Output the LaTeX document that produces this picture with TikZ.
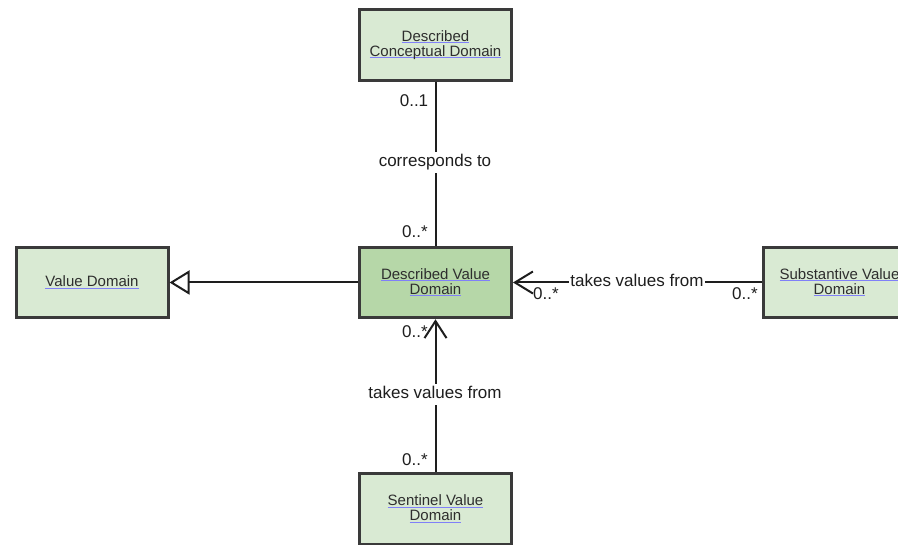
\documentclass[tikz,border=0pt]{standalone}
\usepackage{fontspec}
\setmainfont{Liberation Sans}
\usetikzlibrary{arrows.meta}
\definecolor{boxfill}{HTML}{D9EAD3}
\definecolor{boxfilldark}{HTML}{B6D7A8}
\definecolor{boxdraw}{HTML}{3A3A3A}
\definecolor{ulc}{HTML}{8080F8}
\definecolor{txt}{HTML}{2E2E2E}
\definecolor{lbltxt}{HTML}{1E1E1E}
\newcommand\myul[1]{\setbox0\hbox{#1}\rlap{\textcolor{ulc}{\rule[-2pt]{\wd0}{1pt}}}\box0}
\begin{document}
\begin{tikzpicture}[x=1pt,y=-1pt,
  cls/.style={draw=boxdraw,line width=3pt,fill=boxfill,minimum width=152pt,minimum height=70.5pt,inner sep=0pt,align=center,font=\fontsize{15}{15}\selectfont,text=txt},
  conn/.style={line width=2pt,draw=lbltxt},
  lbl/.style={font=\fontsize{17}{17}\selectfont,text=lbltxt,inner sep=0pt},
  mlbl/.style={lbl,fill=white,inner xsep=1pt,inner ysep=2pt,text height=13pt,text depth=4pt}]
\clip (0,0) rectangle (898,545);
\useasboundingbox (0,0) rectangle (898,545);
% classes
\node[cls] (dcd) at (435.5,45) {\myul{Described}\\\myul{Conceptual Domain}};
\node[cls,fill=boxfilldark] (dvd) at (435.5,282.5) {\myul{Described Value}\\\myul{Domain}};
\node[cls] (vd) at (92,282.5) {\myul{Value Domain}};
\node[cls] (svd) at (839.5,282.5) {\myul{Substantive Value}\\\myul{Domain}};
\node[cls] (snd) at (435.5,509) {\myul{Sentinel Value}\\\myul{Domain}};
% connectors
\draw[conn] (dcd.south) -- (dvd.north);
\draw[conn,-{Triangle[open,length=20pt,width=24pt]}] (dvd.west) -- (vd.east);
\draw[conn,-{Straight Barb[length=18pt,width=22pt]}] (svd.west) -- (dvd.east);
\draw[conn,-{Straight Barb[length=17pt,width=22pt]}] (snd.north) -- (dvd.south);
% association names
\node[mlbl,anchor=base] (n1) at (435,167) {corresponds to};
\node[mlbl,anchor=base] (n2) at (637,287) {takes values from};
\node[mlbl,anchor=base] (n3) at (435,399) {takes values from};
% multiplicities
\node[lbl,anchor=base] (m1) at (414,107) {0..1};
\node[lbl,anchor=base] (m2) at (415,238) {0..*};
\node[lbl,anchor=base] (m3) at (415,338) {0..*};
\node[lbl,anchor=base] (m4) at (546,300) {0..*};
\node[lbl,anchor=base] (m5) at (745,300) {0..*};
\node[lbl,anchor=base] (m6) at (415,466) {0..*};
\end{tikzpicture}
\end{document}
